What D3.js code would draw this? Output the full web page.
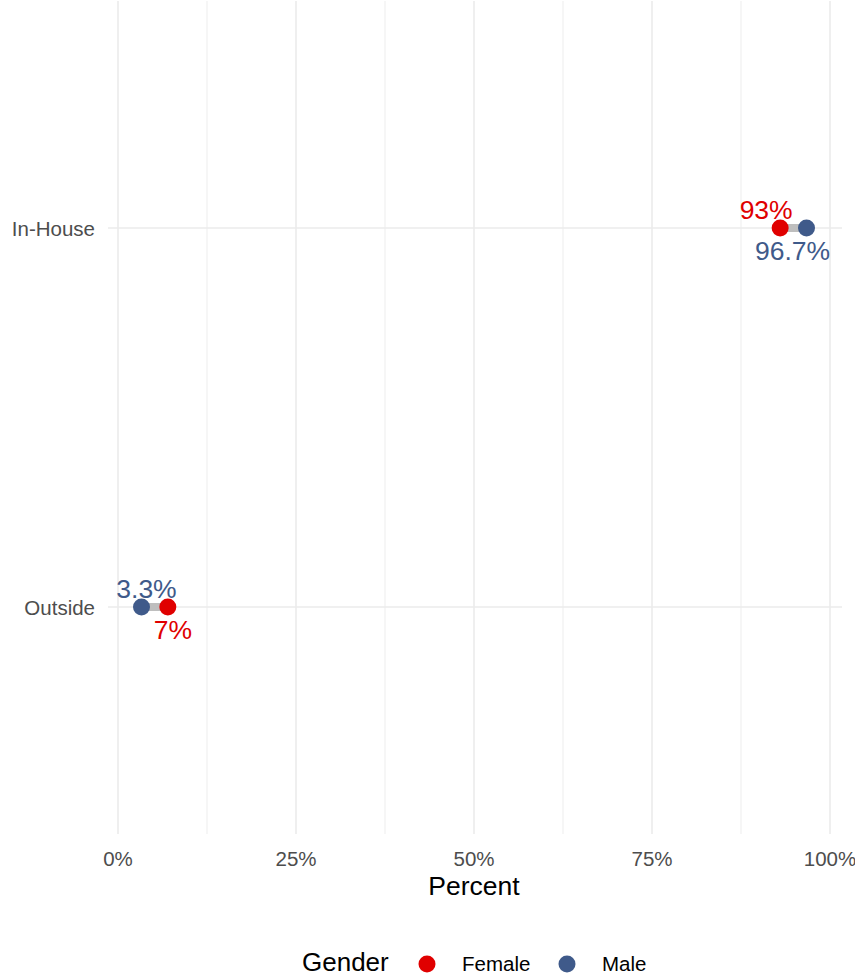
<!DOCTYPE html>
<html><head><meta charset="utf-8">
<script src="https://cdn.jsdelivr.net/npm/d3@7"></script>
<style>body{margin:0;background:#fff}text{font-family:"Liberation Sans",Arial,sans-serif}</style>
</head><body>
<script>
const categories = ["In-House", "Outside"];
const female = [93, 7];
const male = [96.7, 3.3];
const femaleLabels = ["93%", "7%"];
const maleLabels = ["96.7%", "3.3%"];
const xTicks = [0, 25, 50, 75, 100];
const xMinor = [12.5, 37.5, 62.5, 87.5];
const genders = ["Female", "Male"];
const colors = {Female: "#E00000", Male: "#3F5A8A"};

const W = 855, H = 978;
const svg = d3.select("body").append("svg").attr("width", W).attr("height", H);
const panel = {left: 108, right: 842, top: 1, bottom: 834};
const x = d3.scaleLinear().domain([0, 100]).range([118, 830]);
const y = d3.scalePoint().domain(categories).range([228, 607]);

const grid = svg.append("g");
grid.selectAll(".minor").data(xMinor).join("line")
  .attr("x1", d => x(d)).attr("x2", d => x(d)).attr("y1", panel.top).attr("y2", panel.bottom)
  .attr("stroke", "#F0F0F0").attr("stroke-width", 1.2);
grid.selectAll(".major").data(xTicks).join("line")
  .attr("x1", d => x(d)).attr("x2", d => x(d)).attr("y1", panel.top).attr("y2", panel.bottom)
  .attr("stroke", "#EBEBEB").attr("stroke-width", 1.6);
grid.selectAll(".hy").data(categories).join("line")
  .attr("x1", panel.left).attr("x2", panel.right).attr("y1", d => y(d)).attr("y2", d => y(d))
  .attr("stroke", "#EBEBEB").attr("stroke-width", 1.6);

// axis labels
svg.append("g").selectAll("text").data(xTicks).join("text")
  .attr("x", d => x(d)).attr("y", 866).attr("text-anchor", "middle")
  .attr("font-size", 20.5).attr("fill", "#4D4D4D").text(d => d + "%");
svg.append("g").selectAll("text").data(categories).join("text")
  .attr("x", 95).attr("y", d => y(d) + 7.5).attr("text-anchor", "end")
  .attr("font-size", 20.5).attr("fill", "#4D4D4D").text(d => d);
svg.append("text").attr("x", 474).attr("y", 895).attr("text-anchor", "middle")
  .attr("font-size", 26.5).attr("fill", "#000").text("Percent");

// segments
const rows = categories.map((c, i) => ({c, f: female[i], m: male[i], fl: femaleLabels[i], ml: maleLabels[i]}));
svg.append("g").selectAll("line").data(rows).join("line")
  .attr("x1", d => x(d.f)).attr("x2", d => x(d.m)).attr("y1", d => y(d.c)).attr("y2", d => y(d.c))
  .attr("stroke", "#BEBEBE").attr("stroke-width", 8);

// points
const pts = [];
rows.forEach(r => { pts.push({c: r.c, v: r.f, g: "Female"}); pts.push({c: r.c, v: r.m, g: "Male"}); });
svg.append("g").selectAll("circle").data(pts).join("circle")
  .attr("cx", d => x(d.v)).attr("cy", d => y(d.c)).attr("r", 8.5)
  .attr("fill", d => colors[d.g]);

// labels: smaller value above, larger value below
const nudge = {"In-House": -14, "Outside": 5};
rows.forEach(r => {
  const femaleSmaller = r.f < r.m;
  const up = femaleSmaller ? {v: r.f, t: r.fl, g: "Female"} : {v: r.m, t: r.ml, g: "Male"};
  const dn = femaleSmaller ? {v: r.m, t: r.ml, g: "Male"} : {v: r.f, t: r.fl, g: "Female"};
  svg.append("text").attr("x", x(up.v) + nudge[r.c]).attr("y", y(r.c) - 9)
    .attr("text-anchor", "middle").attr("font-size", 26.5).attr("fill", colors[up.g]).text(up.t);
  svg.append("text").attr("x", x(dn.v) + nudge[r.c]).attr("y", y(r.c) + 32)
    .attr("text-anchor", "middle").attr("font-size", 26.5).attr("fill", colors[dn.g]).text(dn.t);
});

// legend
const lg = svg.append("g");
lg.append("text").attr("x", 302).attr("y", 971).attr("font-size", 26).attr("fill", "#000").text("Gender");
const lx = {Female: 427, Male: 567};
lg.selectAll("circle").data(genders).join("circle")
  .attr("cx", d => lx[d]).attr("cy", 964).attr("r", 8.5).attr("fill", d => colors[d]);
lg.selectAll(".lt").data(genders).join("text")
  .attr("x", d => lx[d] + 35).attr("y", 971).attr("font-size", 20.5).attr("fill", "#000").text(d => d);
</script>
</body></html>
